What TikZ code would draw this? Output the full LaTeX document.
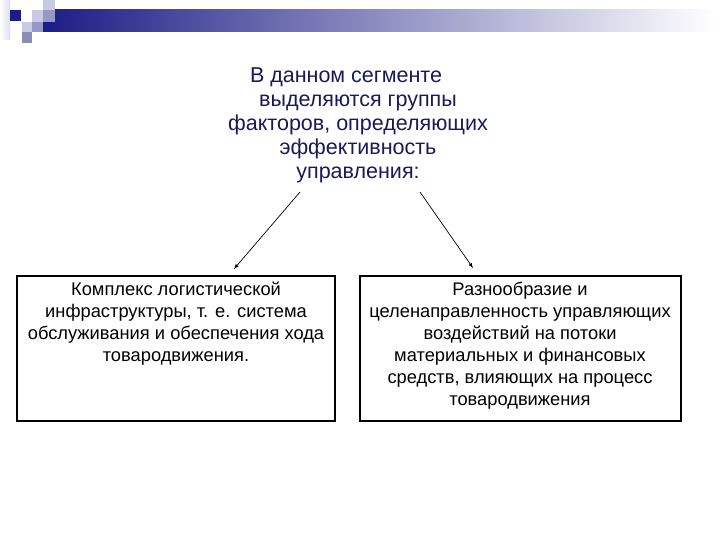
\documentclass[tikz,border=0pt]{standalone}
\usepackage{fontspec}
\setmainfont{Liberation Sans}
\begin{document}
\begin{tikzpicture}[x=1pt,y=-1pt,
  titletext/.style={text=titlenavy,font=\fontsize{21.5}{24}\selectfont,inner sep=0pt,anchor=base},
  factorbox/.style={draw=black,line width=2pt},
  boxtext/.style={font=\fontsize{18.3}{22}\selectfont,align=center,anchor=north,inner sep=0pt,text=black},
  conn/.style={-latex,line width=0.7pt,black}]
\definecolor{titlenavy}{HTML}{1A1A5A}
\definecolor{barnavy}{HTML}{1C1C86}
\definecolor{sqlight}{HTML}{C9CAE2}
\definecolor{sqmed}{HTML}{9697C6}
\definecolor{sqgrey}{HTML}{8C8CB4}
\useasboundingbox (0,0) rectangle (720,540);
\fill[white] (0,0) rectangle (720,540);
% decoration
\shade[left color=white,right color=sqlight!60] (0,0) rectangle (10,40);
\shade[left color=barnavy,right color=white] (43,10) rectangle (715,32);
\fill[barnavy] (10,10) rectangle (21,21);
\fill[sqlight] (43,0) rectangle (55,10);
\fill[sqlight] (32,10) rectangle (43,22);
\fill[sqmed] (43,10) rectangle (55,22);
\fill[sqlight] (22,22) rectangle (32,32);
\fill[sqmed] (32,22) rectangle (43,32);
\fill[sqgrey] (22,32) rectangle (32,43);
% title
\node[titletext] (t1) at (346,83) {В данном сегменте};
\node[titletext] (t2) at (358,107) {выделяются группы};
\node[titletext] (t3) at (358,131) {факторов, определяющих};
\node[titletext] (t4) at (358,155) {эффективность};
\node[titletext] (t5) at (358,179) {управления:};
\coordinate (la) at (300,192);
\coordinate (ra) at (420,192);
% boxes
\draw[factorbox] (17,276) rectangle (335,421);
\draw[factorbox] (360,276) rectangle (681,421);
\node[boxtext] (lb) at (176,282) {Комплекс логистической\\инфраструктуры, т. е. система\\обслуживания и обеспечения хода\\товародвижения.};
\node[boxtext] (rb) at (520,282) {Разнообразие и\\целенаправленность управляющих\\воздействий на потоки\\материальных и финансовых\\средств, влияющих на процесс\\товародвижения};
\coordinate (lt) at (234,269);
\coordinate (rt) at (473,268);
\draw[conn] (la) -- (lt);
\draw[conn] (ra) -- (rt);
\end{tikzpicture}
\end{document}
